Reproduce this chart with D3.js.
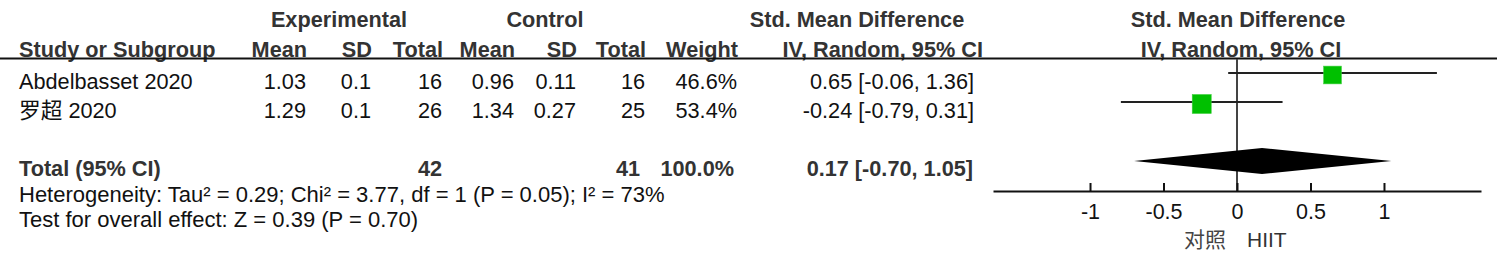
<!DOCTYPE html>
<html>
<head>
<meta charset="utf-8">
<script src="https://cdn.jsdelivr.net/npm/d3@7"></script>
<style>
  html, body { margin: 0; padding: 0; background: #fff; }
  svg text { font-family: "Liberation Sans", Arial, "Noto Sans CJK SC", sans-serif; }
</style>
</head>
<body>
<div id="chart"></div>
<script>
'use strict';

// study rows
const studies = ["Abdelbasset 2020", "罗超 2020"];
const expMean = [1.03, 1.29];
const expSD = [0.1, 0.1];
const expTotal = [16, 26];
const ctrlMean = [0.96, 1.34];
const ctrlSD = [0.11, 0.27];
const ctrlTotal = [16, 25];
const weights = [46.6, 53.4];
const smd = [0.65, -0.24];
const ciLow = [-0.06, -0.79];
const ciHigh = [1.36, 0.31];

// pooled row
const expSum = 42;
const ctrlSum = 41;
const weightSum = 100;
const pooledSmd = 0.17;
const pooledLow = -0.70;
const pooledHigh = 1.05;

const axisTicks = [-1, -0.5, 0, 0.5, 1];
const axisDomain = [-1.66, 1.66];
const favoursLabels = ["对照", "HIIT"];
const heterogeneityText = "Heterogeneity: Tau² = 0.29; Chi² = 3.77, df = 1 (P = 0.05); I² = 73%";
const overallText = "Test for overall effect: Z = 0.39 (P = 0.70)";

const width = 1497;
const height = 264;
const fontSize = 21.7;
const boldColor = "#333333";
const textColor = "#111111";

const locale = d3.formatLocale({decimal: ".", thousands: ",", grouping: [3], currency: ["", ""], minus: "-"});
const f2 = locale.format(".2f");
const f1 = locale.format(".1f");
const ciText = (e, l, h) => `${f2(e)} [${f2(l)}, ${f2(h)}]`;

const svg = d3.select("#chart").append("svg")
  .attr("width", width)
  .attr("height", height);

// baselines
const yHead1 = 27;
const yHead2 = 57;
const yRows = [89, 118];
const yTotal = 176;
const yHet = 202;
const yTest = 227;

const xScale = d3.scaleLinear()
  .domain(axisDomain)
  .range([993, 1481]);

function addText(x, y, txt, opts) {
  opts = opts || {};
  return svg.append("text")
    .attr("x", x)
    .attr("y", y)
    .attr("text-anchor", opts.anchor || "start")
    .attr("font-weight", opts.bold ? "bold" : "normal")
    .attr("fill", opts.color || (opts.bold ? boldColor : textColor))
    .style("font-size", (opts.size || fontSize) + "px")
    .text(txt);
}

// column headers
addText(339, yHead1, "Experimental", {anchor: "middle", bold: true});
addText(545, yHead1, "Control", {anchor: "middle", bold: true});
addText(857, yHead1, "Std. Mean Difference", {anchor: "middle", bold: true});
addText(1238, yHead1, "Std. Mean Difference", {anchor: "middle", bold: true});

const colRight = [307, 372, 443, 515, 577, 646, 738];
const colNames = ["Mean", "SD", "Total", "Mean", "SD", "Total", "Weight"];
addText(19, yHead2, "Study or Subgroup", {bold: true});
colNames.forEach((name, i) => addText(colRight[i], yHead2, name, {anchor: "end", bold: true}));
addText(983, yHead2, "IV, Random, 95% CI", {anchor: "end", bold: true});
addText(1241, yHead2, "IV, Random, 95% CI", {anchor: "middle", bold: true});

svg.append("line")
  .attr("x1", 0)
  .attr("x2", width)
  .attr("y1", 58.5)
  .attr("y2", 58.5)
  .attr("stroke", "#111")
  .attr("stroke-width", 2);

// study rows
studies.forEach((name, i) => {
  const y = yRows[i];
  const cells = [expMean[i], expSD[i], expTotal[i], ctrlMean[i], ctrlSD[i], ctrlTotal[i], f1(weights[i]) + "%"];
  addText(19, y, name);
  cells.forEach((c, j) => addText(colRight[j] - 1, y, String(c), {anchor: "end"}));
  addText(974, y, ciText(smd[i], ciLow[i], ciHigh[i]), {anchor: "end"});
});

// totals
addText(19, yTotal, "Total (95% CI)", {bold: true});
addText(colRight[2] - 1, yTotal, expSum, {anchor: "end", bold: true});
addText(colRight[5] - 6, yTotal, ctrlSum, {anchor: "end", bold: true});
addText(colRight[6] - 4, yTotal, f1(weightSum) + "%", {anchor: "end", bold: true});
addText(973, yTotal, ciText(pooledSmd, pooledLow, pooledHigh), {anchor: "end", bold: true});

addText(19, yHet, heterogeneityText, {size: 22});
addText(19, yTest, overallText, {size: 22});

// forest plot
const axisY = 191;
const plot = svg.append("g");

plot.append("line")
  .attr("x1", xScale(0))
  .attr("x2", xScale(0))
  .attr("y1", 59)
  .attr("y2", axisY)
  .attr("stroke", "#444")
  .attr("stroke-width", 2);

const boxSize = d3.scaleSqrt()
  .domain([0, d3.max(weights)])
  .range([0, 19]);

studies.forEach((name, i) => {
  const ly = yRows[i] - 16;
  plot.append("line")
    .attr("x1", xScale(ciLow[i]))
    .attr("x2", xScale(ciHigh[i]))
    .attr("y1", ly)
    .attr("y2", ly)
    .attr("stroke", "#222")
    .attr("stroke-width", 2);
  const s = boxSize(weights[i]);
  plot.append("rect")
    .attr("x", xScale(smd[i]) - s / 2)
    .attr("y", ly + 2 - s / 2)
    .attr("width", s)
    .attr("height", s)
    .attr("fill", "#00c000")
    .attr("stroke", "#3fd03f")
    .attr("stroke-width", 0.6);
});

const dy = yTotal - 15;
plot.append("path")
  .attr("d", d3.line()([
    [xScale(pooledLow), dy],
    [xScale(pooledSmd), dy - 13],
    [xScale(pooledHigh), dy],
    [xScale(pooledSmd), dy + 13]
  ]) + "Z")
  .attr("fill", "#000");

const xAxis = d3.axisBottom(xScale)
  .tickValues(axisTicks)
  .tickFormat(d => String(d))
  .tickSize(-8)
  .tickSizeOuter(0)
  .tickPadding(13);

const axisG = plot.append("g")
  .attr("transform", `translate(0, ${axisY})`)
  .call(xAxis);

axisG.select(".domain")
  .attr("stroke", "#111")
  .attr("stroke-width", 2);
axisG.selectAll(".tick line")
  .attr("stroke", "#111")
  .attr("stroke-width", 2);
axisG.selectAll(".tick text")
  .attr("fill", "#111")
  .style("font-size", "21.5px")
  .style("font-family", "\"Liberation Sans\", Arial, sans-serif");

addText(xScale(0) - 11, 247, favoursLabels[0], {anchor: "end", size: 21, color: "#444"});
addText(xScale(0) + 10, 247, favoursLabels[1], {size: 21, color: "#333"});
</script>
</body>
</html>
